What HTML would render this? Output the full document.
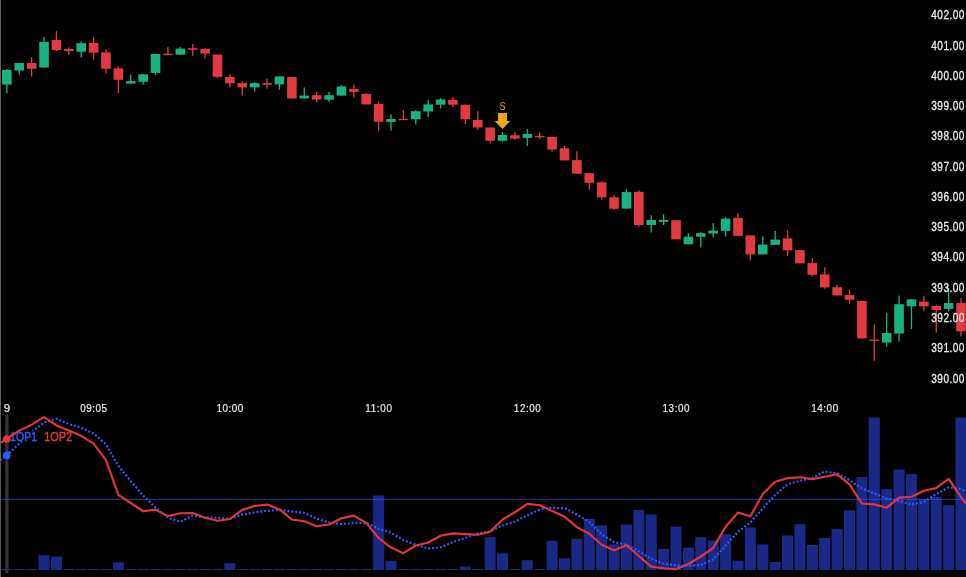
<!DOCTYPE html>
<html><head><meta charset="utf-8"><title>Chart</title>
<style>
html,body{margin:0;padding:0;background:#000;}
body{width:966px;height:577px;overflow:hidden;}
svg{display:block;will-change:transform;font-family:"Liberation Sans",sans-serif;}
</style></head><body>
<svg width="966" height="577" viewBox="0 0 966 577">
<rect width="966" height="577" fill="#000"/>
<rect x="5.3" y="414" width="3.2" height="159.5" rx="1.5" fill="rgb(50,50,56)"/>
<g fill="rgb(27,41,134)"><rect x="1.35" y="569" width="11" height="1"/><rect x="13.74" y="569" width="11" height="1"/><rect x="26.13" y="569" width="11" height="1"/><rect x="38.53" y="555.2" width="11" height="14.8"/><rect x="50.92" y="556.5" width="11" height="13.5"/><rect x="63.31" y="569" width="11" height="1"/><rect x="75.7" y="569" width="11" height="1"/><rect x="88.09" y="569" width="11" height="1"/><rect x="100.49" y="569" width="11" height="1"/><rect x="112.88" y="562.4" width="11" height="7.6"/><rect x="125.27" y="569" width="11" height="1"/><rect x="137.66" y="569" width="11" height="1"/><rect x="150.05" y="569" width="11" height="1"/><rect x="162.45" y="569" width="11" height="1"/><rect x="174.84" y="569" width="11" height="1"/><rect x="187.23" y="569" width="11" height="1"/><rect x="199.62" y="569" width="11" height="1"/><rect x="212.01" y="569" width="11" height="1"/><rect x="224.41" y="563.2" width="11" height="6.8"/><rect x="236.8" y="569" width="11" height="1"/><rect x="249.19" y="569" width="11" height="1"/><rect x="261.58" y="569" width="11" height="1"/><rect x="273.97" y="569" width="11" height="1"/><rect x="286.37" y="569" width="11" height="1"/><rect x="298.76" y="569" width="11" height="1"/><rect x="311.15" y="569" width="11" height="1"/><rect x="323.54" y="569" width="11" height="1"/><rect x="335.93" y="569" width="11" height="1"/><rect x="348.33" y="569" width="11" height="1"/><rect x="360.72" y="569" width="11" height="1"/><rect x="373.11" y="495.5" width="11" height="74.5"/><rect x="385.5" y="561" width="11" height="9"/><rect x="397.89" y="569" width="11" height="1"/><rect x="410.29" y="569" width="11" height="1"/><rect x="422.68" y="569" width="11" height="1"/><rect x="435.07" y="569" width="11" height="1"/><rect x="447.46" y="569" width="11" height="1"/><rect x="459.85" y="566.6" width="11" height="3.4"/><rect x="472.25" y="569" width="11" height="1"/><rect x="484.64" y="537.1" width="11" height="32.9"/><rect x="497.03" y="553.4" width="11" height="16.6"/><rect x="509.42" y="569" width="11" height="1"/><rect x="521.81" y="560.2" width="11" height="9.8"/><rect x="534.21" y="569" width="11" height="1"/><rect x="546.6" y="540.8" width="11" height="29.2"/><rect x="558.99" y="558.2" width="11" height="11.8"/><rect x="571.38" y="538.8" width="11" height="31.2"/><rect x="583.77" y="519" width="11" height="51"/><rect x="596.17" y="525.4" width="11" height="44.6"/><rect x="608.56" y="544.4" width="11" height="25.6"/><rect x="620.95" y="524.5" width="11" height="45.5"/><rect x="633.34" y="509.9" width="11" height="60.1"/><rect x="645.73" y="514.5" width="11" height="55.5"/><rect x="658.13" y="548.9" width="11" height="21.1"/><rect x="670.52" y="526.6" width="11" height="43.4"/><rect x="682.91" y="547.6" width="11" height="22.4"/><rect x="695.3" y="537.1" width="11" height="32.9"/><rect x="707.69" y="540.5" width="11" height="29.5"/><rect x="720.09" y="534.1" width="11" height="35.9"/><rect x="732.48" y="560.7" width="11" height="9.3"/><rect x="744.87" y="527.4" width="11" height="42.6"/><rect x="757.26" y="544.4" width="11" height="25.6"/><rect x="769.65" y="562" width="11" height="8"/><rect x="782.05" y="535.5" width="11" height="34.5"/><rect x="794.44" y="524.2" width="11" height="45.8"/><rect x="806.83" y="545" width="11" height="25"/><rect x="819.22" y="538" width="11" height="32"/><rect x="831.61" y="529.1" width="11" height="40.9"/><rect x="844.01" y="510.3" width="11" height="59.7"/><rect x="856.4" y="477" width="11" height="93"/><rect x="868.79" y="417.5" width="11" height="152.5"/><rect x="881.18" y="489.2" width="11" height="80.8"/><rect x="893.57" y="469.5" width="11" height="100.5"/><rect x="905.97" y="474.2" width="11" height="95.8"/><rect x="918.36" y="499" width="11" height="71"/><rect x="930.75" y="497" width="11" height="73"/><rect x="943.14" y="505.2" width="11" height="64.8"/><rect x="955.53" y="417.5" width="11" height="152.5"/></g>
<rect x="0" y="498.8" width="966" height="1" fill="rgba(60,90,255,0.6)"/>
<g fill="rgb(26,178,128)"><rect x="6.2" y="69" width="1.3" height="24.5"/><rect x="2.05" y="70" width="9.6" height="14.6"/></g>
<g fill="rgb(26,178,128)"><rect x="18.59" y="63" width="1.3" height="11.7"/><rect x="14.44" y="63" width="9.6" height="7.5"/></g>
<g fill="rgb(224,58,66)"><rect x="30.98" y="57.2" width="1.3" height="19.4"/><rect x="26.83" y="63" width="9.6" height="5.8"/></g>
<g fill="rgb(26,178,128)"><rect x="43.38" y="37" width="1.3" height="30.5"/><rect x="39.23" y="41.9" width="9.6" height="25.6"/></g>
<g fill="rgb(224,58,66)"><rect x="55.77" y="31.1" width="1.3" height="19.9"/><rect x="51.62" y="40" width="9.6" height="10"/></g>
<g fill="rgb(224,58,66)"><rect x="68.16" y="47.4" width="1.3" height="7.5"/><rect x="64.01" y="49" width="9.6" height="2.2"/></g>
<g fill="rgb(26,178,128)"><rect x="80.55" y="41.3" width="1.3" height="16.2"/><rect x="76.4" y="43.2" width="9.6" height="8.5"/></g>
<g fill="rgb(224,58,66)"><rect x="92.94" y="37" width="1.3" height="22.7"/><rect x="88.79" y="43" width="9.6" height="9.7"/></g>
<g fill="rgb(224,58,66)"><rect x="105.34" y="49.2" width="1.3" height="24.4"/><rect x="101.19" y="52.4" width="9.6" height="16.4"/></g>
<g fill="rgb(224,58,66)"><rect x="117.73" y="66.2" width="1.3" height="26.9"/><rect x="113.58" y="68.4" width="9.6" height="11.4"/></g>
<g fill="rgb(26,178,128)"><rect x="130.12" y="74.5" width="1.3" height="9.1"/><rect x="125.97" y="81.1" width="9.6" height="2.5"/></g>
<g fill="rgb(26,178,128)"><rect x="142.51" y="74.3" width="1.3" height="10.3"/><rect x="138.36" y="74.3" width="9.6" height="7.5"/></g>
<g fill="rgb(26,178,128)"><rect x="154.9" y="54" width="1.3" height="20.9"/><rect x="150.75" y="54" width="9.6" height="18.9"/></g>
<g fill="rgb(224,58,66)"><rect x="167.3" y="46.9" width="1.3" height="8.5"/><rect x="163.15" y="53.8" width="9.6" height="1.3"/></g>
<g fill="rgb(26,178,128)"><rect x="179.69" y="46.9" width="1.3" height="7.8"/><rect x="175.54" y="48.6" width="9.6" height="6.1"/></g>
<g fill="rgb(224,58,66)"><rect x="192.08" y="44" width="1.3" height="12"/><rect x="187.93" y="48.2" width="9.6" height="1.6"/></g>
<g fill="rgb(224,58,66)"><rect x="204.47" y="48" width="1.3" height="10.4"/><rect x="200.32" y="49" width="9.6" height="4.5"/></g>
<g fill="rgb(224,58,66)"><rect x="216.86" y="54.5" width="1.3" height="23.4"/><rect x="212.71" y="54.5" width="9.6" height="22.4"/></g>
<g fill="rgb(224,58,66)"><rect x="229.26" y="74.3" width="1.3" height="13"/><rect x="225.11" y="76.9" width="9.6" height="6.5"/></g>
<g fill="rgb(224,58,66)"><rect x="241.65" y="81.2" width="1.3" height="14.3"/><rect x="237.5" y="83.1" width="9.6" height="4.3"/></g>
<g fill="rgb(26,178,128)"><rect x="254.04" y="82.5" width="1.3" height="9.1"/><rect x="249.89" y="83.1" width="9.6" height="4.3"/></g>
<g fill="rgb(224,58,66)"><rect x="266.43" y="78.6" width="1.3" height="10"/><rect x="262.28" y="83.1" width="9.6" height="1.6"/></g>
<g fill="rgb(26,178,128)"><rect x="278.82" y="76.4" width="1.3" height="13.2"/><rect x="274.67" y="76.4" width="9.6" height="8"/></g>
<g fill="rgb(224,58,66)"><rect x="291.22" y="77.1" width="1.3" height="21.4"/><rect x="287.07" y="77.1" width="9.6" height="21.4"/></g>
<g fill="rgb(26,178,128)"><rect x="303.61" y="87.4" width="1.3" height="11"/><rect x="299.46" y="95.6" width="9.6" height="2.8"/></g>
<g fill="rgb(224,58,66)"><rect x="316" y="92" width="1.3" height="10"/><rect x="311.85" y="95.2" width="9.6" height="4.3"/></g>
<g fill="rgb(26,178,128)"><rect x="328.39" y="92" width="1.3" height="9.8"/><rect x="324.24" y="95.2" width="9.6" height="4.5"/></g>
<g fill="rgb(26,178,128)"><rect x="340.78" y="85.2" width="1.3" height="10.4"/><rect x="336.63" y="86.5" width="9.6" height="9.1"/></g>
<g fill="rgb(224,58,66)"><rect x="353.18" y="84.5" width="1.3" height="13"/><rect x="349.03" y="89" width="9.6" height="2.9"/></g>
<g fill="rgb(224,58,66)"><rect x="365.57" y="93" width="1.3" height="11.4"/><rect x="361.42" y="93.9" width="9.6" height="10.5"/></g>
<g fill="rgb(224,58,66)"><rect x="377.96" y="101.4" width="1.3" height="29.5"/><rect x="373.81" y="104" width="9.6" height="17.8"/></g>
<g fill="rgb(26,178,128)"><rect x="390.35" y="114.1" width="1.3" height="16.6"/><rect x="386.2" y="119" width="9.6" height="2.9"/></g>
<g fill="rgb(224,58,66)"><rect x="402.74" y="110.2" width="1.3" height="9.6"/><rect x="398.59" y="118.8" width="9.6" height="1.3"/></g>
<g fill="rgb(26,178,128)"><rect x="415.14" y="110.2" width="1.3" height="14.4"/><rect x="410.99" y="111.2" width="9.6" height="8.1"/></g>
<g fill="rgb(26,178,128)"><rect x="427.53" y="99.9" width="1.3" height="16.9"/><rect x="423.38" y="104.4" width="9.6" height="7.1"/></g>
<g fill="rgb(26,178,128)"><rect x="439.92" y="98.2" width="1.3" height="10.4"/><rect x="435.77" y="99.5" width="9.6" height="5.2"/></g>
<g fill="rgb(224,58,66)"><rect x="452.31" y="96.9" width="1.3" height="10.1"/><rect x="448.16" y="99.9" width="9.6" height="4.8"/></g>
<g fill="rgb(224,58,66)"><rect x="464.7" y="104.7" width="1.3" height="19.3"/><rect x="460.55" y="104.7" width="9.6" height="14.6"/></g>
<g fill="rgb(224,58,66)"><rect x="477.1" y="111.2" width="1.3" height="18.8"/><rect x="472.95" y="120" width="9.6" height="7.5"/></g>
<g fill="rgb(224,58,66)"><rect x="489.49" y="127.5" width="1.3" height="15.9"/><rect x="485.34" y="127.5" width="9.6" height="13.3"/></g>
<g fill="rgb(26,178,128)"><rect x="501.88" y="132" width="1.3" height="9.8"/><rect x="497.73" y="135" width="9.6" height="5.8"/></g>
<g fill="rgb(224,58,66)"><rect x="514.27" y="132" width="1.3" height="7.9"/><rect x="510.12" y="135.3" width="9.6" height="3.3"/></g>
<g fill="rgb(26,178,128)"><rect x="526.66" y="129.1" width="1.3" height="16.9"/><rect x="522.51" y="134" width="9.6" height="3.9"/></g>
<g fill="rgb(224,58,66)"><rect x="539.06" y="132.4" width="1.3" height="6.6"/><rect x="534.91" y="136" width="9.6" height="1.3"/></g>
<g fill="rgb(224,58,66)"><rect x="551.45" y="137" width="1.3" height="14.6"/><rect x="547.3" y="137" width="9.6" height="12.5"/></g>
<g fill="rgb(224,58,66)"><rect x="563.84" y="146" width="1.3" height="14.4"/><rect x="559.69" y="148.3" width="9.6" height="12.1"/></g>
<g fill="rgb(224,58,66)"><rect x="576.23" y="151.3" width="1.3" height="22.4"/><rect x="572.08" y="160.1" width="9.6" height="13.6"/></g>
<g fill="rgb(224,58,66)"><rect x="588.62" y="173.2" width="1.3" height="16.6"/><rect x="584.47" y="173.2" width="9.6" height="9.6"/></g>
<g fill="rgb(224,58,66)"><rect x="601.02" y="181.2" width="1.3" height="18.4"/><rect x="596.87" y="182.3" width="9.6" height="15"/></g>
<g fill="rgb(224,58,66)"><rect x="613.41" y="195.3" width="1.3" height="14.7"/><rect x="609.26" y="197.3" width="9.6" height="11.5"/></g>
<g fill="rgb(26,178,128)"><rect x="625.8" y="189.2" width="1.3" height="19.4"/><rect x="621.65" y="192.1" width="9.6" height="16.5"/></g>
<g fill="rgb(224,58,66)"><rect x="638.19" y="190.4" width="1.3" height="36.4"/><rect x="634.04" y="191.8" width="9.6" height="33.2"/></g>
<g fill="rgb(26,178,128)"><rect x="650.58" y="215.2" width="1.3" height="17.3"/><rect x="646.43" y="220" width="9.6" height="5"/></g>
<g fill="rgb(26,178,128)"><rect x="662.98" y="214.3" width="1.3" height="10.7"/><rect x="658.83" y="219.9" width="9.6" height="1.9"/></g>
<g fill="rgb(224,58,66)"><rect x="675.37" y="220.2" width="1.3" height="19.1"/><rect x="671.22" y="220.2" width="9.6" height="19.1"/></g>
<g fill="rgb(26,178,128)"><rect x="687.76" y="233.2" width="1.3" height="11"/><rect x="683.61" y="236.7" width="9.6" height="7.5"/></g>
<g fill="rgb(26,178,128)"><rect x="700.15" y="232.2" width="1.3" height="15.3"/><rect x="696" y="233.2" width="9.6" height="3.5"/></g>
<g fill="rgb(26,178,128)"><rect x="712.54" y="223.1" width="1.3" height="14.6"/><rect x="708.39" y="230.6" width="9.6" height="2.9"/></g>
<g fill="rgb(26,178,128)"><rect x="724.94" y="217.3" width="1.3" height="19.4"/><rect x="720.79" y="218.6" width="9.6" height="12.2"/></g>
<g fill="rgb(224,58,66)"><rect x="737.33" y="213" width="1.3" height="22.8"/><rect x="733.18" y="217.9" width="9.6" height="17.9"/></g>
<g fill="rgb(224,58,66)"><rect x="749.72" y="235.4" width="1.3" height="25.1"/><rect x="745.57" y="235.4" width="9.6" height="19"/></g>
<g fill="rgb(26,178,128)"><rect x="762.11" y="236.4" width="1.3" height="18"/><rect x="757.96" y="244.6" width="9.6" height="9.8"/></g>
<g fill="rgb(26,178,128)"><rect x="774.5" y="230.9" width="1.3" height="13.9"/><rect x="770.35" y="239.6" width="9.6" height="5.2"/></g>
<g fill="rgb(224,58,66)"><rect x="786.9" y="230.2" width="1.3" height="25.6"/><rect x="782.75" y="238.4" width="9.6" height="12"/></g>
<g fill="rgb(224,58,66)"><rect x="799.29" y="250.1" width="1.3" height="13.3"/><rect x="795.14" y="250.1" width="9.6" height="13.3"/></g>
<g fill="rgb(224,58,66)"><rect x="811.68" y="258.2" width="1.3" height="18.2"/><rect x="807.53" y="263.1" width="9.6" height="11.7"/></g>
<g fill="rgb(224,58,66)"><rect x="824.07" y="267.3" width="1.3" height="21.4"/><rect x="819.92" y="274.4" width="9.6" height="13"/></g>
<g fill="rgb(224,58,66)"><rect x="836.46" y="285" width="1.3" height="10.5"/><rect x="832.31" y="287.2" width="9.6" height="8.3"/></g>
<g fill="rgb(224,58,66)"><rect x="848.86" y="289.5" width="1.3" height="14.3"/><rect x="844.71" y="295.1" width="9.6" height="4.6"/></g>
<g fill="rgb(224,58,66)"><rect x="861.25" y="300.9" width="1.3" height="37.5"/><rect x="857.1" y="300.9" width="9.6" height="37.5"/></g>
<g fill="rgb(224,58,66)"><rect x="873.64" y="324.4" width="1.3" height="36.3"/><rect x="869.49" y="339.6" width="9.6" height="1.3"/></g>
<g fill="rgb(26,178,128)"><rect x="886.03" y="313.2" width="1.3" height="33.5"/><rect x="881.88" y="333" width="9.6" height="9.5"/></g>
<g fill="rgb(26,178,128)"><rect x="898.42" y="295.6" width="1.3" height="46.1"/><rect x="894.27" y="304.2" width="9.6" height="29.3"/></g>
<g fill="rgb(26,178,128)"><rect x="910.82" y="299.4" width="1.3" height="29.6"/><rect x="906.67" y="299.4" width="9.6" height="6.9"/></g>
<g fill="rgb(224,58,66)"><rect x="923.21" y="296.1" width="1.3" height="14.8"/><rect x="919.06" y="301.7" width="9.6" height="4.6"/></g>
<g fill="rgb(224,58,66)"><rect x="935.6" y="305.1" width="1.3" height="27.6"/><rect x="931.45" y="306" width="9.6" height="3.9"/></g>
<g fill="rgb(26,178,128)"><rect x="947.99" y="287.9" width="1.3" height="23.3"/><rect x="943.84" y="303" width="9.6" height="5.8"/></g>
<g fill="rgb(224,58,66)"><rect x="960.38" y="298" width="1.3" height="38.3"/><rect x="956.23" y="303" width="9.6" height="28.3"/></g>
<polyline points="0,460.3 6.85,455.2 19.24,443.6 31.63,432.1 44.03,422.5 56.42,418.8 68.81,424 81.2,427.7 93.59,433.6 105.99,444.3 118.38,466 130.77,481.2 143.16,495.5 155.55,507.4 167.95,517.8 180.34,521.7 192.73,515.6 205.12,517.3 217.51,517.8 229.91,518.7 242.3,514.5 254.69,512.4 267.08,510.8 279.47,509.9 291.87,511.4 304.26,512.8 316.65,518.7 329.04,522.5 341.43,524 353.83,522.9 366.22,522.9 378.61,528.7 391,532.9 403.39,540 415.79,544.7 428.18,548.6 440.57,547.2 452.96,542.2 465.35,538 477.75,533.4 490.14,531.3 502.53,525.4 514.92,521.7 527.31,515.3 539.71,509.6 552.1,507.7 564.49,508.2 576.88,514.5 589.27,522 601.67,534.1 614.06,542.2 626.45,544.7 638.84,551.4 651.23,558.7 663.63,563.7 676.02,565.6 688.41,565.8 700.8,565 713.19,559.3 725.59,545.5 737.98,531.8 750.37,522.5 762.76,508.5 775.15,495 787.55,484.2 799.94,480.8 812.33,478 824.72,471.6 837.11,473.2 849.51,480.1 861.9,488.4 874.29,493.4 886.68,498.4 899.07,501 911.47,504.4 923.86,501.8 936.25,494.2 948.64,487.3 961.03,489.2 966,491.3" fill="none" stroke="rgb(48,88,255)" stroke-width="2.15" stroke-dasharray="2.05 1.85"/>
<rect x="10" y="431.3" width="63" height="10" fill="#000"/>
<text x="10.2" y="440.7" font-size="12" textLength="26.8" lengthAdjust="spacingAndGlyphs" fill="rgb(48,88,255)" stroke="rgb(48,88,255)" stroke-width="0.45">1OP1</text>
<text x="44.2" y="440.7" font-size="12" textLength="27.9" lengthAdjust="spacingAndGlyphs" fill="rgb(228,52,62)" stroke="rgb(228,52,62)" stroke-width="0.45">1OP2</text>
<polyline points="0,443.2 6.85,438.7 19.24,430.6 31.63,424.7 44.03,417.1 56.42,425.5 68.81,430.6 81.2,435.8 93.59,443.6 105.99,460.1 118.38,494.9 130.77,503 143.16,511.3 155.55,509.6 167.95,516.1 180.34,513.3 192.73,513.1 205.12,517.8 217.51,520.7 229.91,519 242.3,509.9 254.69,506 267.08,504.6 279.47,509.4 291.87,519.5 304.26,521.2 316.65,526.2 329.04,524.5 341.43,518.3 353.83,515.6 366.22,522.9 378.61,538 391,547.6 403.39,553.2 415.79,545.5 428.18,542.5 440.57,535.8 452.96,533.4 465.35,534.1 477.75,534.8 490.14,531.8 502.53,519.5 514.92,512.3 527.31,503.9 539.71,505.2 552.1,511.1 564.49,516.6 576.88,527.1 589.27,533.8 601.67,544.7 614.06,550.3 626.45,545.2 638.84,556 651.23,566.6 663.63,568.2 676.02,569.2 688.41,564 700.8,556.5 713.19,548 725.59,526.8 737.98,512.6 750.37,516.2 762.76,493.9 775.15,481.8 787.55,478.1 799.94,477.3 812.33,479.1 824.72,476.8 837.11,474.4 849.51,484.3 861.9,503.5 874.29,504.4 886.68,507.7 899.07,497.6 911.47,496.8 923.86,490.8 936.25,488 948.64,478.8 961.03,497.2 966,503.5" fill="none" stroke="rgb(228,52,62)" stroke-width="2.15" stroke-linejoin="round"/>
<circle cx="6.8" cy="439" r="3.8" fill="rgb(228,52,62)"/>
<circle cx="6.8" cy="455.4" r="3.8" fill="rgb(48,88,255)"/>
<rect x="0" y="0" width="1" height="577" fill="rgb(92,92,92)"/>
<text transform="translate(502.4,109.8) scale(0.8,1)" x="0" y="0" font-size="11.3" text-anchor="middle" fill="rgb(236,166,14)">S</text>
<polygon points="498,113 507,113 507,121 510.3,121 502.5,129 494.6,121 498,121" fill="rgb(236,166,14)"/>
<text x="3.65" y="411.9" font-size="11.6" fill="rgb(236,236,236)" stroke="rgb(236,236,236)" stroke-width="0.2">9</text>
<text transform="translate(80.14,411.9) scale(0.84,1)" font-size="11.8" textLength="32.02" fill="rgb(236,236,236)" stroke="rgb(236,236,236)" stroke-width="0.2">09:05</text>
<text transform="translate(216.46,411.9) scale(0.84,1)" font-size="11.8" textLength="32.02" fill="rgb(236,236,236)" stroke="rgb(236,236,236)" stroke-width="0.2">10:00</text>
<text transform="translate(365.16,411.9) scale(0.84,1)" font-size="11.8" textLength="32.02" fill="rgb(236,236,236)" stroke="rgb(236,236,236)" stroke-width="0.2">11:00</text>
<text transform="translate(513.86,411.9) scale(0.84,1)" font-size="11.8" textLength="32.02" fill="rgb(236,236,236)" stroke="rgb(236,236,236)" stroke-width="0.2">12:00</text>
<text transform="translate(662.57,411.9) scale(0.84,1)" font-size="11.8" textLength="32.02" fill="rgb(236,236,236)" stroke="rgb(236,236,236)" stroke-width="0.2">13:00</text>
<text transform="translate(811.27,411.9) scale(0.84,1)" font-size="11.8" textLength="32.02" fill="rgb(236,236,236)" stroke="rgb(236,236,236)" stroke-width="0.2">14:00</text>
<text transform="translate(931.3,19.3) scale(0.84,1)" font-size="12" textLength="39.29" fill="rgb(236,236,236)" stroke="rgb(236,236,236)" stroke-width="0.3">402.00</text>
<text transform="translate(931.3,49.57) scale(0.84,1)" font-size="12" textLength="39.29" fill="rgb(236,236,236)" stroke="rgb(236,236,236)" stroke-width="0.3">401.00</text>
<text transform="translate(931.3,79.84) scale(0.84,1)" font-size="12" textLength="39.29" fill="rgb(236,236,236)" stroke="rgb(236,236,236)" stroke-width="0.3">400.00</text>
<text transform="translate(931.3,110.11) scale(0.84,1)" font-size="12" textLength="39.29" fill="rgb(236,236,236)" stroke="rgb(236,236,236)" stroke-width="0.3">399.00</text>
<text transform="translate(931.3,140.38) scale(0.84,1)" font-size="12" textLength="39.29" fill="rgb(236,236,236)" stroke="rgb(236,236,236)" stroke-width="0.3">398.00</text>
<text transform="translate(931.3,170.65) scale(0.84,1)" font-size="12" textLength="39.29" fill="rgb(236,236,236)" stroke="rgb(236,236,236)" stroke-width="0.3">397.00</text>
<text transform="translate(931.3,200.92) scale(0.84,1)" font-size="12" textLength="39.29" fill="rgb(236,236,236)" stroke="rgb(236,236,236)" stroke-width="0.3">396.00</text>
<text transform="translate(931.3,231.19) scale(0.84,1)" font-size="12" textLength="39.29" fill="rgb(236,236,236)" stroke="rgb(236,236,236)" stroke-width="0.3">395.00</text>
<text transform="translate(931.3,261.46) scale(0.84,1)" font-size="12" textLength="39.29" fill="rgb(236,236,236)" stroke="rgb(236,236,236)" stroke-width="0.3">394.00</text>
<text transform="translate(931.3,291.73) scale(0.84,1)" font-size="12" textLength="39.29" fill="rgb(236,236,236)" stroke="rgb(236,236,236)" stroke-width="0.3">393.00</text>
<text transform="translate(931.3,322) scale(0.84,1)" font-size="12" textLength="39.29" fill="rgb(236,236,236)" stroke="rgb(236,236,236)" stroke-width="0.3">392.00</text>
<text transform="translate(931.3,352.27) scale(0.84,1)" font-size="12" textLength="39.29" fill="rgb(236,236,236)" stroke="rgb(236,236,236)" stroke-width="0.3">391.00</text>
<text transform="translate(931.3,382.54) scale(0.84,1)" font-size="12" textLength="39.29" fill="rgb(236,236,236)" stroke="rgb(236,236,236)" stroke-width="0.3">390.00</text>
</svg>
</body></html>
